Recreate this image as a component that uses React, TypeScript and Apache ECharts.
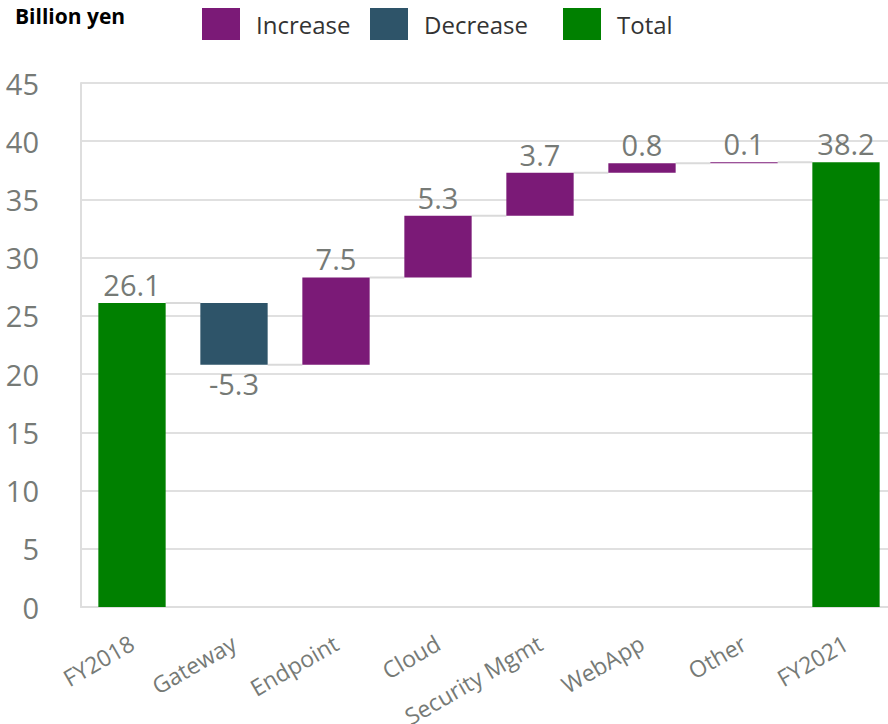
import React, { useEffect, useRef } from "react";
import * as echarts from "echarts";

const categories = ["FY2018", "Gateway", "Endpoint", "Cloud", "Security Mgmt", "WebApp", "Other", "FY2021"];
const changes = [26.1, -5.3, 7.5, 5.3, 3.7, 0.8, 0.1, 38.2];
const kinds = ["total", "dec", "inc", "inc", "inc", "inc", "inc", "total"];
const yTicks = { min: 0, max: 45, interval: 5 };

const FONT = "'Open Sans', 'Noto Sans', sans-serif";
const GREY = "#767a76";
const C_INC = "#7b1a77";
const C_DEC = "#2e5469";
const C_TOT = "#008000";

export default function App() {
  const ref = useRef<HTMLDivElement>(null);
  useEffect(() => {
    if (!ref.current) return;
    const chart = echarts.init(ref.current, undefined, { renderer: "svg" });

    const base: number[] = [];
    const levels: number[] = [];
    let level = 0;
    changes.forEach((v, i) => {
      if (kinds[i] === "total") {
        base.push(0);
        level = v;
      } else if (kinds[i] === "inc") {
        base.push(level);
        level = level + v;
      } else {
        level = level + v;
        base.push(level);
      }
      levels.push(Math.round(level * 10) / 10);
    });
    const roundBase = base.map((b) => Math.round(b * 10) / 10);
    const incData = changes.map((v, i) => (kinds[i] === "inc" ? v : "-"));
    const decData = changes.map((v, i) => (kinds[i] === "dec" ? Math.abs(v) : "-"));
    const totData = changes.map((v, i) => (kinds[i] === "total" ? v : "-"));
    const connectors = levels.slice(0, -1).map((l, i) => [i, l]);

    const labelStyle = { show: true, color: GREY, fontSize: 29, fontFamily: FONT, distance: 4 };

    chart.setOption({
      animation: false,
      graphic: [
        {
          type: "text",
          left: 15,
          top: 5,
          style: { text: "Billion yen", fontSize: 21, fontWeight: "bold", fontFamily: FONT, fill: "#000" },
        },
      ],
      legend: [
        { data: ["Increase"], left: 197 },
        { data: ["Decrease"], left: 365 },
        { data: ["Total"], left: 558 },
      ].map((l) => ({
        ...l,
        top: 3,
        icon: "rect",
        itemWidth: 38,
        itemHeight: 32,
        textStyle: { fontSize: 24, color: "#333", fontFamily: FONT, padding: [0, 0, 0, 11] },
      })),
      grid: { left: 81, width: 816, top: 83, bottom: 117, outerBoundsMode: "none", containLabel: false },
      xAxis: {
        type: "category",
        data: categories,
        axisTick: { show: false },
        axisLine: { lineStyle: { color: "#dedede", width: 2 } },
        axisLabel: { rotate: 30, fontSize: 23, color: GREY, fontFamily: FONT, margin: 34, interval: 0 },
      },
      yAxis: {
        type: "value",
        min: yTicks.min,
        max: yTicks.max,
        interval: yTicks.interval,
        axisLine: { show: true, lineStyle: { color: "#dedede", width: 2 } },
        axisTick: { show: false },
        splitLine: { lineStyle: { color: "#e0e0e0", width: 2 } },
        axisLabel: { fontSize: 29, color: GREY, fontFamily: FONT, margin: 42 },
      },
      series: [
        {
          name: "base",
          type: "bar",
          stack: "w",
          barWidth: "66%",
          itemStyle: { color: "transparent" },
          emphasis: { disabled: true },
          data: roundBase,
          silent: true,
        },
        {
          name: "Increase",
          type: "bar",
          stack: "w",
          itemStyle: { color: C_INC },
          label: { ...labelStyle, position: "top" },
          data: incData,
        },
        {
          name: "Decrease",
          type: "bar",
          stack: "w",
          itemStyle: { color: C_DEC },
          label: { ...labelStyle, position: "bottom", formatter: (p: any) => "-" + p.value },
          data: decData,
        },
        {
          name: "Total",
          type: "bar",
          stack: "w",
          itemStyle: { color: C_TOT },
          label: { ...labelStyle, position: "top" },
          data: totData,
        },
        {
          name: "connector",
          type: "custom",
          silent: true,
          z: 1,
          renderItem: (params: any, api: any) => {
            const p = api.coord([api.value(0), api.value(1)]);
            const bw = api.size([1, 0])[0];
            const half = bw * 0.33;
            return {
              type: "line",
              shape: { x1: p[0] + half, y1: p[1], x2: p[0] + bw - half, y2: p[1] },
              style: { stroke: "#dadada", lineWidth: 2 },
            };
          },
          data: connectors,
        },
      ],
    });
    return () => chart.dispose();
  }, []);
  return <div ref={ref} style={{ position: "absolute", left: 0, top: 0, width: 888, height: 724 }} />;
}
